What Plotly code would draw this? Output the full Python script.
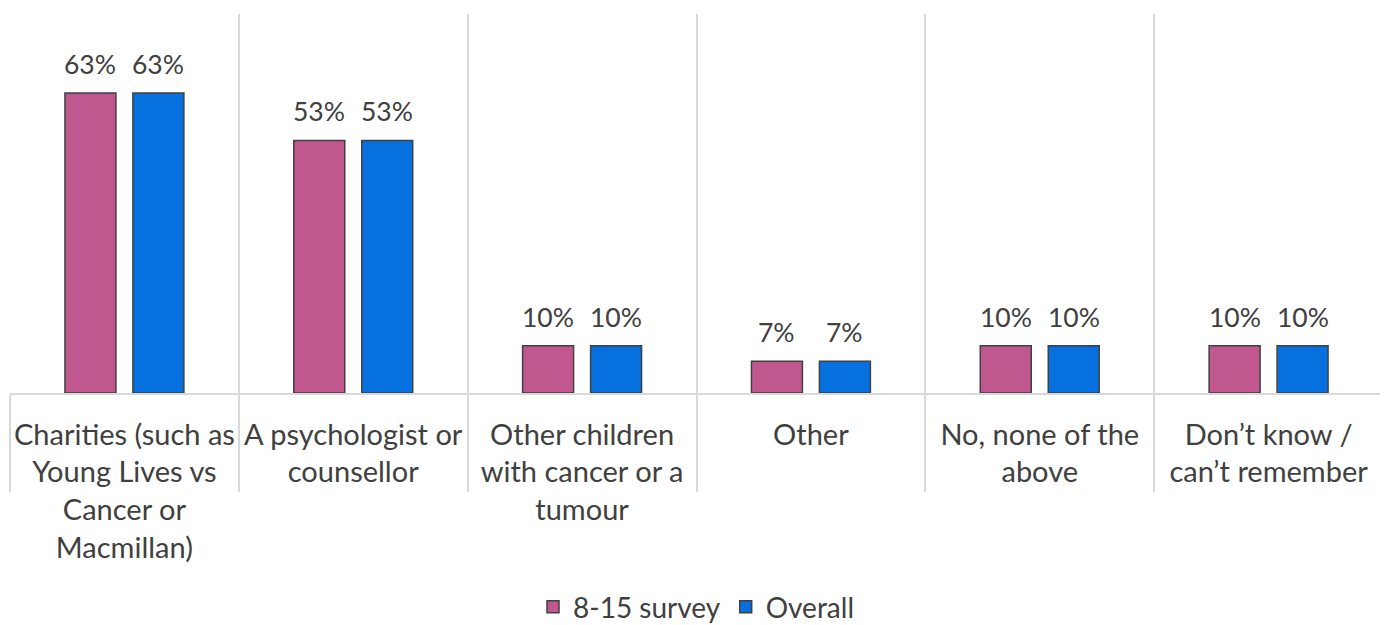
import plotly.graph_objects as go

categories = [
    "Charities (such as<br>Young Lives vs<br>Cancer or<br>Macmillan)",
    "A psychologist or<br>counsellor",
    "Other children<br>with cancer or a<br>tumour",
    "Other",
    "No, none of the<br>above",
    "Don’t know /<br>can’t remember",
]
survey_8_15 = [63.3, 53.3, 10.0, 6.7, 10.0, 10.0]
overall = [63.3, 53.3, 10.0, 6.7, 10.0, 10.0]
series_names = ["8-15 survey", "Overall"]
series_colors = ["#C0588F", "#0570DE"]

TEXT = "#404040"
GRID = "#D9D9D9"
FONT = "Lato, 'Open Sans', sans-serif"

fig = go.Figure()
series = [survey_8_15, overall]
for name, vals, col in zip(series_names, series, series_colors):
    fig.add_trace(go.Bar(
        x=categories, y=vals, name=name,
        marker=dict(color=col, line=dict(color="#404040", width=1.5)),
        cliponaxis=False,
    ))

# value labels placed above each bar of the group
shifts = [-34, 34]
for vals, dx in zip(series, shifts):
    for cat, v in zip(categories, vals):
        fig.add_annotation(
            x=cat, y=v, xref="x", yref="y", text=f"{v:.0f}%", showarrow=False,
            xshift=dx, yshift=29, yanchor="middle",
            font=dict(size=26.5, color=TEXT, family=FONT),
        )

fig.update_layout(
    width=1380, height=617,
    margin=dict(l=2, r=5, t=6, b=232, autoexpand=False),
    plot_bgcolor="white", paper_bgcolor="white",
    barmode="group", bargap=0.406, bargroupgap=0.25,
    font=dict(family=FONT, color=TEXT, size=29),
    legend=dict(orientation="h", x=0.5, xanchor="center", y=-0.565, yanchor="middle",
                font=dict(size=28, color=TEXT, family=FONT), itemwidth=30,
                traceorder="normal"),
    showlegend=True,
)
fig.update_xaxes(
    automargin=False,
    tickson="boundaries", showgrid=True, gridcolor=GRID, gridwidth=1.5,
    ticks="outside", ticklen=97, tickcolor=GRID, tickwidth=1.5,
    ticklabelstandoff=15,
    showline=True, linecolor=GRID, linewidth=1.5,
    tickangle=0, tickfont=dict(size=29, color=TEXT, family=FONT),
)
fig.update_yaxes(range=[0, 80], showgrid=False, showticklabels=False, zeroline=False, showline=False,
                 automargin=False)

fig.write_html("out.html")
